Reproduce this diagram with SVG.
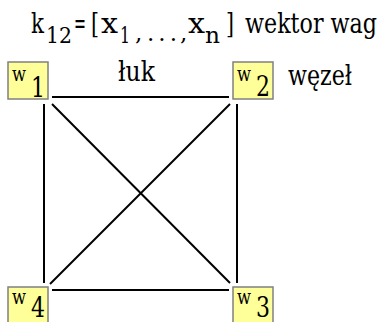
<svg xmlns="http://www.w3.org/2000/svg" width="383" height="322" viewBox="0 0 383 322">
<style>
text{fill:#000}
.t{font-size:27px}
.s{font-size:23px}
.nw{font-size:20px}
.nd{font-size:27px}
.box{fill:#ffff99;stroke:#808080;stroke-width:1.5}
.edge{stroke:#000;stroke-width:2;fill:none}
</style>
<rect width="383" height="322" fill="#fff"/>
<g font-family="'DejaVu Serif', serif">
<g id="label-top">
<text class="t" x="31" y="33" textLength="13" lengthAdjust="spacingAndGlyphs">k</text>
<text class="s" x="46" y="43" textLength="26" lengthAdjust="spacingAndGlyphs">12</text>
<text class="t" x="74" y="33" textLength="12" lengthAdjust="spacingAndGlyphs">=</text>
<text class="t" x="91" y="33" textLength="8" lengthAdjust="spacingAndGlyphs">[</text>
<text class="t" x="101" y="33" textLength="17" lengthAdjust="spacingAndGlyphs">x</text>
<text class="s" x="120" y="43" textLength="10" lengthAdjust="spacingAndGlyphs">1</text>
<text class="s" x="135" y="41">,</text>
<text class="s" x="147" y="41" textLength="30" lengthAdjust="spacing">...</text>
<text class="s" x="180" y="41">,</text>
<text class="t" x="188" y="33" textLength="17" lengthAdjust="spacingAndGlyphs">x</text>
<text class="s" x="205" y="43" textLength="15" lengthAdjust="spacingAndGlyphs">n</text>
<text class="t" x="226" y="33" textLength="8" lengthAdjust="spacingAndGlyphs">]</text>
<text class="t" x="245" y="33" textLength="132" lengthAdjust="spacingAndGlyphs">wektor wag</text>
<text class="t" x="118" y="81" textLength="37" lengthAdjust="spacingAndGlyphs">łuk</text>
<text class="t" x="288" y="85" textLength="64" lengthAdjust="spacingAndGlyphs">węzeł</text>
</g>
<g id="edges">
<line class="edge" x1="52" y1="97" x2="229" y2="97"/>
<line class="edge" x1="52" y1="290" x2="229" y2="290"/>
<line class="edge" x1="44" y1="104" x2="44" y2="283"/>
<line class="edge" x1="237" y1="104" x2="237" y2="283"/>
<line class="edge" x1="52" y1="104" x2="230" y2="283"/>
<line class="edge" x1="230" y1="104" x2="50" y2="284"/>
</g>
<g id="w1">
<rect class="box" x="8" y="62" width="40" height="37"/>
<text class="nw" x="12" y="81" textLength="14" lengthAdjust="spacingAndGlyphs">w</text>
<text class="nd" x="31" y="97" textLength="14" lengthAdjust="spacingAndGlyphs">1</text>
</g>
<g id="w2">
<rect class="box" x="233" y="62" width="40" height="37"/>
<text class="nw" x="237" y="81" textLength="14" lengthAdjust="spacingAndGlyphs">w</text>
<text class="nd" x="256" y="96" textLength="14" lengthAdjust="spacingAndGlyphs">2</text>
</g>
<g id="w4">
<rect class="box" x="8" y="287" width="40" height="40"/>
<text class="nw" x="12" y="304" textLength="14" lengthAdjust="spacingAndGlyphs">w</text>
<text class="nd" x="31" y="317" textLength="14" lengthAdjust="spacingAndGlyphs">4</text>
</g>
<g id="w3">
<rect class="box" x="233" y="287" width="40" height="40"/>
<text class="nw" x="237" y="304" textLength="14" lengthAdjust="spacingAndGlyphs">w</text>
<text class="nd" x="256" y="317" textLength="14" lengthAdjust="spacingAndGlyphs">3</text>
</g>
</g>
</svg>
